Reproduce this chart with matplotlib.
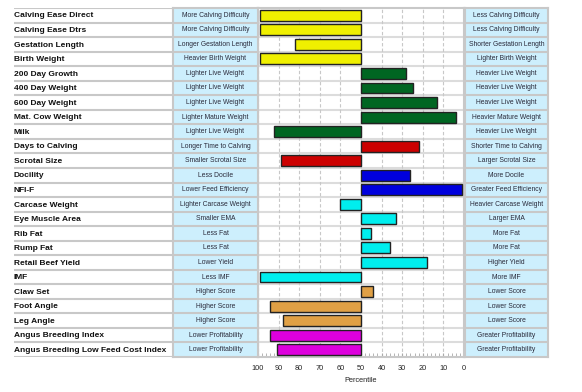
import matplotlib
matplotlib.use('Agg')
import matplotlib.pyplot as plt
from matplotlib.ticker import MultipleLocator

traits = ['Calving Ease Direct', 'Calving Ease Dtrs', 'Gestation Length', 'Birth Weight',
          '200 Day Growth', '400 Day Weight', '600 Day Weight', 'Mat. Cow Weight', 'Milk',
          'Days to Calving', 'Scrotal Size', 'Docility', 'NFI-F', 'Carcase Weight',
          'Eye Muscle Area', 'Rib Fat', 'Rump Fat', 'Retail Beef Yield', 'IMF',
          'Claw Set', 'Foot Angle', 'Leg Angle', 'Angus Breeding Index',
          'Angus Breeding Low Feed Cost Index']
low_labels = ['More Calving Difficulty', 'More Calving Difficulty', 'Longer Gestation Length',
              'Heavier Birth Weight', 'Lighter Live Weight', 'Lighter Live Weight',
              'Lighter Live Weight', 'Lighter Mature Weight', 'Lighter Live Weight',
              'Longer Time to Calving', 'Smaller Scrotal Size', 'Less Docile',
              'Lower Feed Efficiency', 'Lighter Carcase Weight', 'Smaller EMA', 'Less Fat',
              'Less Fat', 'Lower Yield', 'Less IMF', 'Higher Score', 'Higher Score',
              'Higher Score', 'Lower Profitability', 'Lower Profitability']
high_labels = ['Less Calving Difficulty', 'Less Calving Difficulty', 'Shorter Gestation Length',
               'Lighter Birth Weight', 'Heavier Live Weight', 'Heavier Live Weight',
               'Heavier Live Weight', 'Heavier Mature Weight', 'Heavier Live Weight',
               'Shorter Time to Calving', 'Larger Scrotal Size', 'More Docile',
               'Greater Feed Efficiency', 'Heavier Carcase Weight', 'Larger EMA', 'More Fat',
               'More Fat', 'Higher Yield', 'More IMF', 'Lower Score', 'Lower Score',
               'Lower Score', 'Greater Profitability', 'Greater Profitability']
percentile = [99, 99, 82, 99, 28, 25, 13, 4, 92, 22, 89, 26, 1, 60, 33, 45, 36, 18, 99,
              44, 94, 88, 94, 91]
groups = ['calving'] * 4 + ['growth'] * 5 + ['fertility'] * 2 + ['other'] * 2 + \
         ['carcase'] * 6 + ['structure'] * 3 + ['index'] * 2
group_colors = {'calving': '#f0f000', 'growth': '#006622', 'fertility': '#cc0000',
                'other': '#0000dd', 'carcase': '#00eeee', 'structure': '#e0a045',
                'index': '#dd00dd'}

n = len(traits)
W, H = 582, 392
fig = plt.figure(figsize=(W / 100, H / 100), dpi=100)
plt.rcParams['font.family'] = ['Liberation Sans', 'DejaVu Sans']


def px_axes(x0, x1, y0=8, y1=357):
    return fig.add_axes([x0 / W, 1 - y1 / H, (x1 - x0) / W, (y1 - y0) / H])


rows = [i + 0.5 for i in range(n)]
line_col = '#c8c8c8'

# bar area
ax = px_axes(258, 464)
ax.barh(rows, [p - 50 for p in percentile], left=50, height=0.75,
        color=[group_colors[g] for g in groups], edgecolor='#222222', linewidth=1.0, zorder=3)
ax.set_xlim(100, 0)
ax.set_ylim(n, 0)
ax.set_xticks(range(0, 101, 10))
ax.xaxis.set_minor_locator(MultipleLocator(2))
ax.set_yticks([])
ax.xaxis.grid(True, linestyle=(0, (3, 2)), color='#c8c8c8', linewidth=0.8, zorder=0)
for i in range(1, n):
    ax.axhline(i, color='#dcdcdc', linewidth=1.5, zorder=1)
for s in ax.spines.values():
    s.set_color(line_col)
    s.set_linewidth(1.5)
ax.tick_params(axis='x', which='both', direction='in', color='#aaaaaa', labelsize=5.3,
               labelcolor='#222222', pad=6)
ax.tick_params(axis='x', which='major', length=3)
ax.tick_params(axis='x', which='minor', length=3)
ax.set_xlabel('Percentile', fontsize=5.3, color='#222222', labelpad=3)

# trait names
axl = px_axes(14, 173)
axl.set_xlim(0, 1)
axl.set_ylim(n, 0)
axl.axis('off')
for i in range(n + 1):
    axl.axhline(i, color=line_col, linewidth=1.5)
for y, t in zip(rows, traits):
    axl.text(0.0, y + 0.05, t, fontsize=6.0, fontweight='bold', va='center', ha='left',
             color='#111111')


def side_column(x0, x1, labels):
    a = px_axes(x0, x1)
    a.set_facecolor('#cdeffd')
    a.set_xlim(0, 1)
    a.set_ylim(n, 0)
    a.set_xticks([])
    a.set_yticks([])
    for s in a.spines.values():
        s.set_color(line_col)
        s.set_linewidth(1.5)
    for i in range(1, n):
        a.axhline(i, color=line_col, linewidth=1.5)
    for y, t in zip(rows, labels):
        a.text(0.5, y, t, fontsize=4.9, va='center', ha='center', color='#2a2a3a')
    return a


side_column(173, 258, low_labels)
side_column(465, 548, high_labels)

fig.savefig('out.png', dpi=100)
